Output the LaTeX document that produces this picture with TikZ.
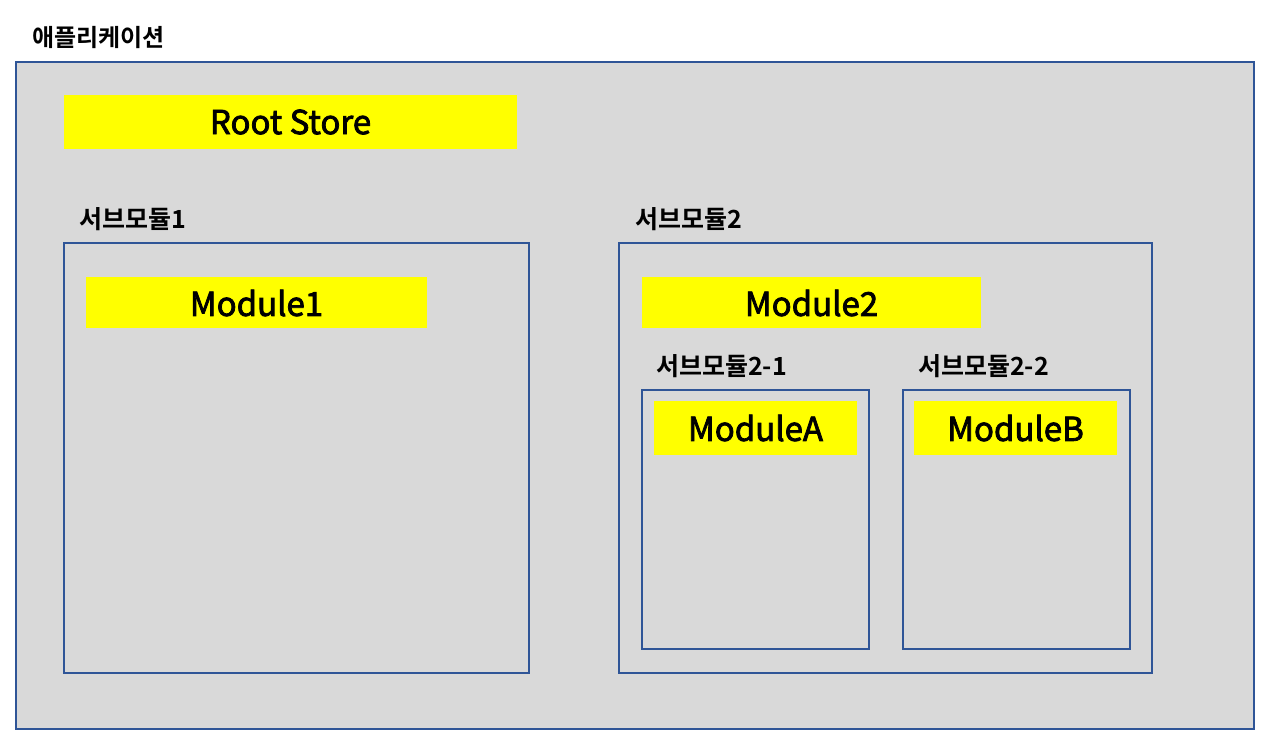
\documentclass[tikz,border=0pt]{standalone}
\usepackage{fontspec}
\setmainfont{Noto Sans CJK KR}[BoldFont={Noto Sans CJK KR Bold}]
\newfontface\ymed{Noto Sans CJK KR}[FakeBold=2.4]
\begin{document}
\begin{tikzpicture}[x=1pt,y=-1pt,
  frame/.style={draw=boxblue,line width=1.3pt,fill=boxgray},
  ybox/.style={fill=yellowbox,draw=none},
  ytext/.style={font=\ymed\fontsize{33}{36}\selectfont,inner sep=0pt},
  lbl/.style={font=\bfseries\fontsize{25}{28}\selectfont,anchor=west,inner sep=0pt}]
\definecolor{boxblue}{HTML}{2F5597}
\definecolor{boxgray}{HTML}{D9D9D9}
\definecolor{yellowbox}{HTML}{FFFF00}
\useasboundingbox (0,0) rectangle (1269,745);
% application
\node[lbl,font=\bfseries\fontsize{24}{28}\selectfont] (tApp) at (32,38) {애플리케이션};
\draw[frame] (16,62) rectangle (1254,729);
\coordinate (app) at (16,62);
% root store
\fill[ybox] (64,95) rectangle (517,149);
\node[ytext] (root) at (290.5,122) {Root Store};
% submodule 1
\node[lbl] (tS1) at (79,219) {서브모듈1};
\draw[frame] (64,243) rectangle (529,673);
\fill[ybox] (86,277) rectangle (427,328);
\node[ytext] (m1) at (256.5,303) {Module1};
% submodule 2
\node[lbl] (tS2) at (635,219) {서브모듈2};
\draw[frame] (619,243) rectangle (1152,673);
\fill[ybox] (642,277) rectangle (981,328);
\node[ytext] (m2) at (811.5,303) {Module2};
% submodule 2-1
\node[lbl] (tS21) at (656,366) {서브모듈2-1};
\draw[frame] (642,390) rectangle (869,649);
\fill[ybox] (654,401) rectangle (857,455);
\node[ytext] (mA) at (755.5,428) {ModuleA};
% submodule 2-2
\node[lbl] (tS22) at (918,366) {서브모듈2-2};
\draw[frame] (903,390) rectangle (1130,649);
\fill[ybox] (914,401) rectangle (1117,455);
\node[ytext] (mB) at (1015.5,428) {ModuleB};
\end{tikzpicture}
\end{document}
